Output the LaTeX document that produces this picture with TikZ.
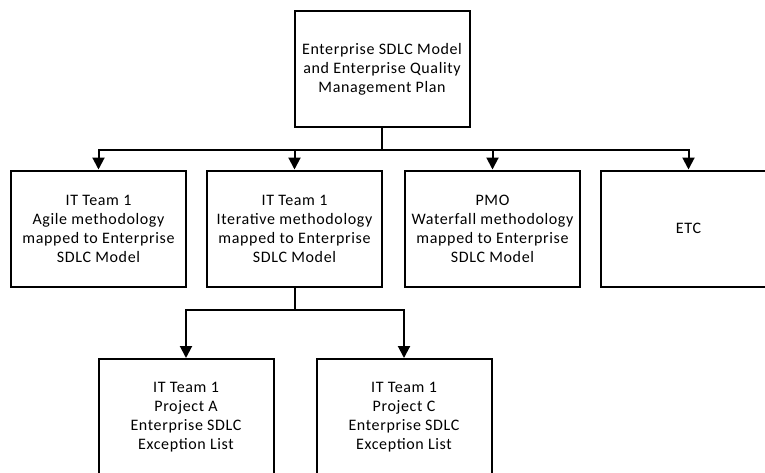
\documentclass[tikz,border=0pt]{standalone}
\usepackage{fontspec}
\setmainfont{Carlito}[LetterSpace=4]
\usetikzlibrary{arrows.meta}
\begin{document}
\begin{tikzpicture}[x=1pt,y=-1pt,
  box/.style={draw,line width=2pt,minimum width=175pt,minimum height=116pt,
    align=center,font=\fontsize{16}{19}\selectfont,inner sep=0pt},
  conn/.style={line width=2pt,line cap=rect},
  arr/.style={line width=2pt,-{Triangle[width=12pt,length=12pt]}}]
\useasboundingbox (0,0) rectangle (765,472);
\node[box] (top) at (382,69) {Enterprise SDLC Model\\and Enterprise Quality\\Management Plan};
\node[box] (a) at (98.5,228.5) {IT Team 1\\Agile methodology\\mapped to Enterprise\\SDLC Model};
\node[box] (b) at (294.5,228.5) {IT Team 1\\Iterative methodology\\mapped to Enterprise\\SDLC Model};
\node[box] (c) at (492.5,228.5) {PMO\\Waterfall methodology\\mapped to Enterprise\\SDLC Model};
\node[box] (d) at (688.5,228.5) {ETC};
\node[box] (e) at (186,417) {IT Team 1\\Project A\\Enterprise SDLC\\Exception List};
\node[box] (f) at (404,417) {IT Team 1\\Project C\\Enterprise SDLC\\Exception List};
% top level connectors
\draw[conn] (top.south) -- ++(0,22) coordinate (j);
\draw[conn] (a.north |- j) -- (d.north |- j);
\foreach \n in {a,b,c,d} \draw[arr] (\n.north |- j) -- (\n.north);
% lower connectors
\draw[conn] (b.south) -- ++(0,22) coordinate (k);
\draw[conn] (e.north |- k) -- (f.north |- k);
\foreach \n in {e,f} \draw[arr] (\n.north |- k) -- (\n.north);
\end{tikzpicture}
\end{document}
